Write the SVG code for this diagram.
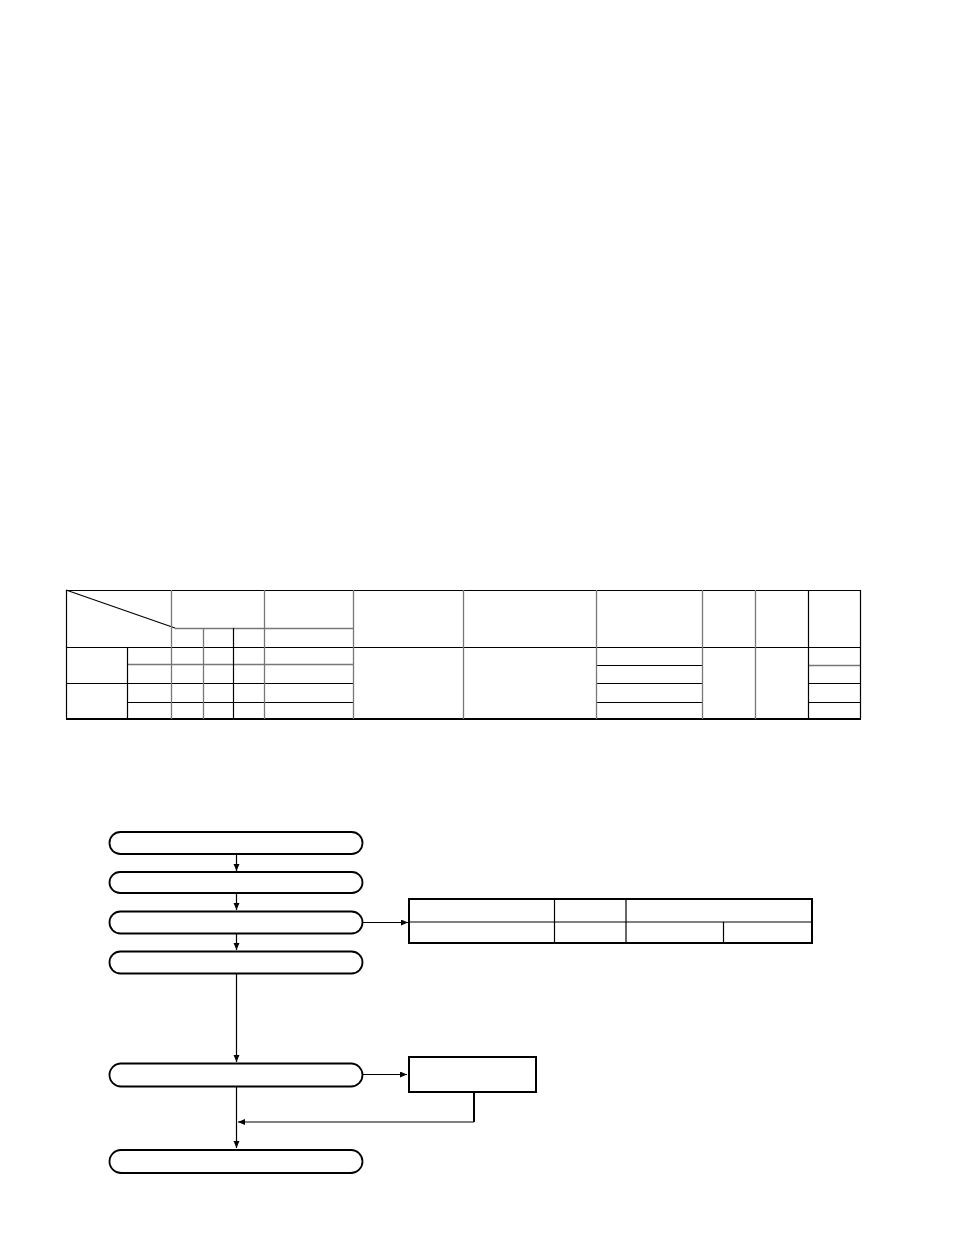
<svg xmlns="http://www.w3.org/2000/svg" width="954" height="1235" viewBox="0 0 954 1235">
<defs>
<marker id="ah" markerWidth="8" markerHeight="8" refX="7" refY="3" orient="auto" markerUnits="userSpaceOnUse">
<path d="M0,0 L7,3 L0,6 Z" fill="#000"/>
</marker>
<style>
.k{stroke:#000;stroke-width:1.2;fill:none}
.g{stroke:#777;stroke-width:1.3;fill:none}
.st{fill:#fff;stroke:#000;stroke-width:1.8}
.bx{fill:#fff;stroke:#000;stroke-width:2}
.c{stroke:#000;stroke-width:1.2;fill:none}
</style>
</defs>
<rect width="954" height="1235" fill="#fff"/>
<g id="table1">
<line class="k" x1="66" y1="590.5" x2="860" y2="590.5"/>
<line class="k" x1="66" y1="590" x2="175" y2="628"/>
<line class="g" x1="175" y1="628.5" x2="353" y2="628.5"/>
<line class="k" x1="66" y1="647.5" x2="860" y2="647.5"/>
<line class="g" x1="127" y1="664.5" x2="353" y2="664.5"/>
<line class="k" x1="66" y1="683.5" x2="353" y2="683.5"/>
<line class="k" x1="127" y1="702.5" x2="353" y2="702.5"/>
<line class="k" x1="596" y1="665.5" x2="702" y2="665.5"/>
<line class="k" x1="596" y1="683.5" x2="702" y2="683.5"/>
<line class="k" x1="596" y1="702.5" x2="702" y2="702.5"/>
<line class="g" x1="808" y1="665.5" x2="860" y2="665.5"/>
<line class="k" x1="808" y1="683.5" x2="860" y2="683.5"/>
<line class="k" x1="808" y1="702.5" x2="860" y2="702.5"/>
<line x1="66" y1="719" x2="861" y2="719" stroke="#000" stroke-width="2.2"/>
<line class="k" x1="66.5" y1="590" x2="66.5" y2="719"/>
<line class="k" x1="127.5" y1="647" x2="127.5" y2="719"/>
<line class="g" x1="171.5" y1="590" x2="171.5" y2="719"/>
<line class="g" x1="203.5" y1="628" x2="203.5" y2="719"/>
<line class="k" x1="233.5" y1="628" x2="233.5" y2="719"/>
<line class="g" x1="264.5" y1="590" x2="264.5" y2="719"/>
<line class="g" x1="353.5" y1="590" x2="353.5" y2="719"/>
<line class="g" x1="463.5" y1="590" x2="463.5" y2="719"/>
<line class="g" x1="596.5" y1="590" x2="596.5" y2="719"/>
<line class="g" x1="702.5" y1="590" x2="702.5" y2="719"/>
<line class="g" x1="755.5" y1="590" x2="755.5" y2="719"/>
<line class="k" x1="808.5" y1="590" x2="808.5" y2="719"/>
<line class="k" x1="860.5" y1="590" x2="860.5" y2="719"/>
</g>
<g id="connectors">
<line class="c" x1="236.5" y1="854" x2="236.5" y2="871" marker-end="url(#ah)"/>
<line class="c" x1="236.5" y1="893" x2="236.5" y2="910" marker-end="url(#ah)"/>
<line class="c" x1="236.5" y1="933" x2="236.5" y2="950" marker-end="url(#ah)"/>
<line class="c" x1="236.5" y1="973" x2="236.5" y2="1062" marker-end="url(#ah)"/>
<line class="c" x1="236.5" y1="1086" x2="236.5" y2="1148" marker-end="url(#ah)"/>
<line class="c" x1="363" y1="922.5" x2="408" y2="922.5" marker-end="url(#ah)"/>
<line class="c" x1="363" y1="1074.5" x2="407" y2="1074.5" marker-end="url(#ah)"/>
<polyline fill="none" stroke="#000" stroke-width="2" points="474,1092 474,1122"/>
<line class="c" x1="474" y1="1122" x2="238" y2="1122" marker-end="url(#ah)"/>
</g>
<g id="n1"><rect class="st" x="109.5" y="832" width="253" height="22" rx="11"/></g>
<g id="n2"><rect class="st" x="109.5" y="872" width="253" height="21" rx="10.5"/></g>
<g id="n3"><rect class="st" x="109.5" y="911.5" width="253" height="22" rx="11"/></g>
<g id="n4"><rect class="st" x="109.5" y="951.5" width="253" height="22" rx="11"/></g>
<g id="n5"><rect class="st" x="109.5" y="1063.5" width="253" height="23" rx="11.5"/></g>
<g id="n6"><rect class="st" x="109.5" y="1150" width="253" height="23" rx="11.5"/></g>
<g id="n7"><rect class="bx" x="409" y="1057" width="127" height="35"/></g>
<g id="table2">
<rect class="bx" x="409" y="899" width="403" height="44"/>
<line class="k" x1="409" y1="922" x2="812" y2="922"/>
<line class="k" x1="554.5" y1="899" x2="554.5" y2="943"/>
<line class="k" x1="626" y1="899" x2="626" y2="943"/>
<line class="k" x1="723.5" y1="922" x2="723.5" y2="943"/>
</g>
</svg>
